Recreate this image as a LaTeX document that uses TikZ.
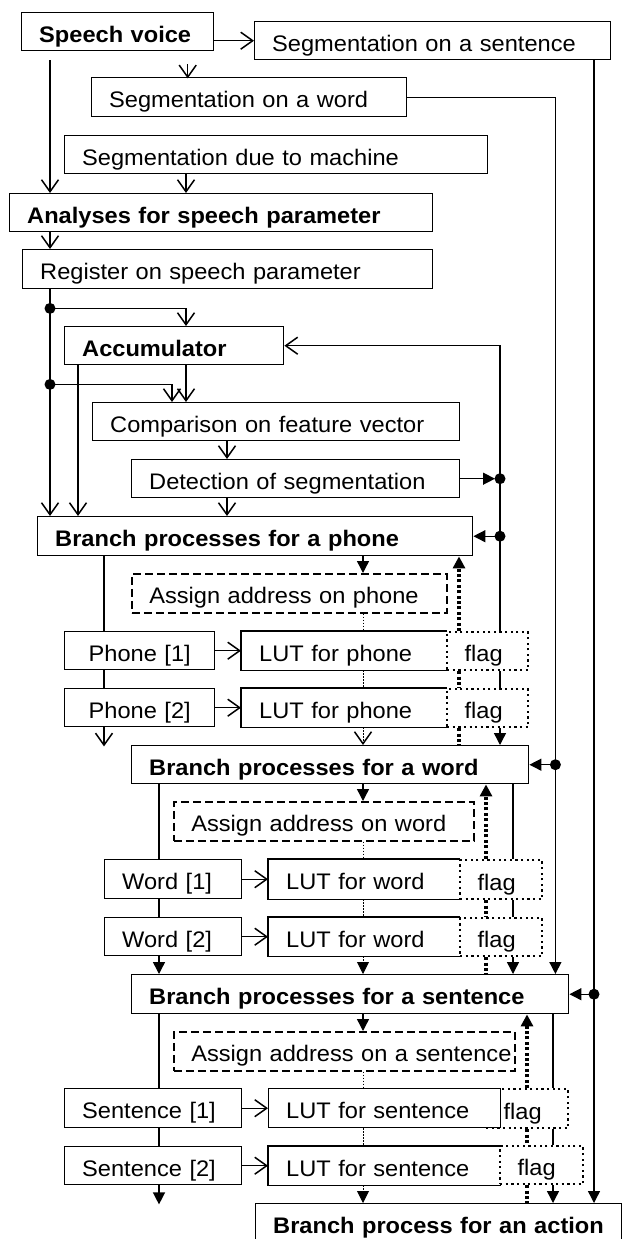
\documentclass[tikz,border=0pt]{standalone}
\usepackage{fontspec}
\setmainfont{Liberation Sans}[FakeStretch=1.05]
\usetikzlibrary{arrows.meta,calc}
\begin{document}
\begin{tikzpicture}[x=1pt,y=-1pt,line width=1.4pt,
  bx/.style={draw,line width=1.4pt,anchor=north west,inner xsep=17.5pt,inner ysep=0pt,
    align=left,text height=21pt,text depth=0pt,minimum height=38pt,
    font=\fontsize{22.5}{26}\selectfont},
  bb/.style={bx,font=\fontsize{22.5}{26}\selectfont\bfseries},
  da/.style={bx,line width=1.5pt,dash pattern=on 8pt off 4pt},
  fg/.style={bx,line width=2.2pt,dash pattern=on 2.2pt off 3.4pt},
  lut/.style={bx,draw=none},
  oa/.style={-{Straight Barb[length=12pt,width=17pt,line width=1.5pt]}},
  fa/.style={-{Triangle[length=12pt,width=12pt]}},
  td/.style={line width=3.4pt,dash pattern=on 3pt off 2.4pt},
  tn/.style={line width=0.9pt,dash pattern=on 1.2pt off 1.8pt},
  jdot/.style={fill=black}
]
\useasboundingbox (0,0) rectangle (623,1239);
\clip (0,0) rectangle (623,1239);

% ---------- nodes ----------
\node[bb,minimum width=192pt,text width=157pt] (sv) at (21,12) {\mbox{Speech voice}};
\node[bx,minimum width=356pt,text width=321pt] (sseg) at (254,21) {\mbox{Segmentation on a sentence}};
\node[bx,minimum width=315pt,text width=280pt,minimum height=39pt] (wseg) at (91,77) {\mbox{Segmentation on a word}};
\node[bx,minimum width=423pt,text width=388pt] (mseg) at (64,135) {\mbox{Segmentation due to machine}};
\node[bb,minimum width=423pt,text width=388pt] (ana) at (9,193) {\mbox{Analyses for speech parameter}};
\node[bx,minimum width=410pt,text width=375pt,minimum height=39pt] (reg) at (22,249) {\mbox{Register on speech parameter}};
\node[bb,minimum width=219pt,text width=184pt] (acc) at (64,326) {\mbox{Accumulator}};
\node[bx,minimum width=367pt,text width=332pt] (cmp) at (92,402) {\mbox{Comparison on feature vector}};
\node[bx,minimum width=328pt,text width=293pt] (det) at (131,459) {\mbox{Detection of segmentation}};
\node[bb,minimum width=435pt,text width=400pt,minimum height=39pt] (bph) at (37,516) {\mbox{Branch processes for a phone}};
\node[da,minimum width=315pt,text width=280pt,minimum height=39pt] (aph) at (131,573) {\mbox{Assign address on phone}};
\node[bx,align=center,minimum width=150pt,text width=115pt] (ph1) at (64,631) {\mbox{Phone [1]}};
\node[lut,minimum width=205pt,text width=170pt] (lph1) at (241,631) {\mbox{LUT for phone}};
\node[fg,minimum width=81pt,text width=46pt] (fph1) at (446,631) {flag};
\node[bx,align=center,minimum width=150pt,text width=115pt] (ph2) at (64,688) {\mbox{Phone [2]}};
\node[lut,minimum width=205pt,text width=170pt] (lph2) at (241,688) {\mbox{LUT for phone}};
\node[fg,minimum width=81pt,text width=46pt] (fph2) at (446,688) {flag};
\node[bb,minimum width=397pt,text width=362pt] (bwd) at (131,745) {\mbox{Branch processes for a word}};
\node[da,minimum width=300pt,text width=265pt,minimum height=39pt] (awd) at (173,801) {\mbox{Assign address on word}};
\node[bx,minimum width=137pt,text width=102pt,minimum height=39pt] (wd1) at (104,859) {\mbox{Word [1]}};
\node[lut,minimum width=191pt,text width=156pt,minimum height=39pt] (lwd1) at (268,859) {\mbox{LUT for word}};
\node[fg,minimum width=82pt,text width=47pt,minimum height=39pt] (fwd1) at (459,859) {flag};
\node[bx,minimum width=137pt,text width=102pt] (wd2) at (104,917) {\mbox{Word [2]}};
\node[lut,minimum width=191pt,text width=156pt] (lwd2) at (268,917) {\mbox{LUT for word}};
\node[fg,minimum width=82pt,text width=47pt] (fwd2) at (459,917) {flag};
\node[bb,minimum width=437pt,text width=402pt,minimum height=39pt] (bse) at (131,974) {\mbox{Branch processes for a sentence}};
\node[da,minimum width=341pt,text width=306pt,minimum height=39pt] (ase) at (173,1031) {\mbox{Assign address on a sentence}};
\node[bx,minimum width=177pt,text width=142pt,minimum height=39pt] (se1) at (64,1088) {\mbox{Sentence [1]}};
\node[fg,minimum width=82pt,text width=47pt,minimum height=39pt] (fse1) at (485,1088) {flag};
\node[bx,fill=white,minimum width=232pt,text width=197pt,minimum height=39pt] (lse1) at (268,1088) {\mbox{LUT for sentence}};
\node[bx,minimum width=177pt,text width=142pt] (se2) at (64,1146) {\mbox{Sentence [2]}};
\node[lut,minimum width=232pt,text width=197pt] (lse2) at (268,1146) {\mbox{LUT for sentence}};
\node[fg,minimum width=83pt,text width=48pt] (fse2) at (499,1145) {flag};
\node[bb,minimum width=366pt,text width=331pt] (act) at (255,1203) {\mbox{Branch process for an action}};

% LUT outlines (right side is the dotted flag edge)
\foreach \n in {lph1,lph2,lwd1,lwd2,lse2}
  \draw (\n.north east) -- (\n.north west) -- (\n.south west) -- (\n.south east);

% ---------- top part ----------
\draw[oa] (sv.east |- sseg.west) -- (sseg.west);
\draw[oa] ($(sv.south)+(70,13)$) -- ++(0,14);
\draw[oa] ($(sv.south west)+(29,9)$) coordinate (L0) -- (L0 |- ana.north);
\draw[oa] ($(mseg.south west)+(122,0)$) coordinate (m0) -- (m0 |- ana.north);
\draw[oa] ($(ana.south west)+(41,0)$) coordinate (a0) -- (a0 |- reg.north);
\draw[oa] ($(reg.south west)+(28,0)$) coordinate (r0) -- (r0 |- bph.north);
\coordinate (j1) at ($(r0)+(0,19)$);
\coordinate (j2) at ($(r0)+(0,95)$);
\draw[oa] (j1) -| ($(acc.north west)+(122,0)$);
\draw[oa] (j2) -| ($(cmp.north west)+(80,0)$);
\draw[oa] ($(acc.south west)+(14,0)$) coordinate (c0) -- (c0 |- bph.north);
\draw[oa] ($(acc.south west)+(122,0)$) coordinate (c1) -- (c1 |- cmp.north);
\draw[oa] ($(cmp.south west)+(135,0)$) coordinate (c2) -- (c2 |- det.north);
\draw[oa] ($(det.south west)+(96,0)$) coordinate (c3) -- (c3 |- bph.north);

% feedback line x=500
\coordinate (fb) at ($(fph1.north west)+(54,0)$);
\draw[oa] (fb) |- (acc.east);
\coordinate (j3) at (fb |- det.east);
\coordinate (j4) at (fb |- bph.east);
\draw[fa] (det.east) -- ($(j3)+(-5,0)$);
\draw[fa] (j4) -- (bph.east);

% segmentation on a word line
\coordinate (w1) at ($(wseg.east)+(148,0)$);
\coordinate (j5) at (w1 |- bwd.east);
\draw[fa] (wseg.east) -- (w1) -- (w1 |- bse.north);
\draw[fa] (j5) -- (bwd.east);

% segmentation on a sentence line
\coordinate (s1) at ($(sseg.south west)+(340,0)$);
\coordinate (j6) at (s1 |- bse.east);
\draw[fa] (s1) -- (s1 |- act.north);
\draw[fa] (j6) -- (bse.east);

% ---------- phone ----------
\draw ($(bph.south west)+(67,0)$) coordinate (p0) -- (p0 |- ph1.north);
\draw ($(ph1.south west)+(40,0)$) coordinate (p1) -- (p1 |- ph2.north);
\draw[oa] ($(ph2.south west)+(40,0)$) -- ++(0,19);
\draw[fa] ($(bph.south west)+(326,0)$) coordinate (q0) -- (q0 |- aph.north);
\draw[tn] ($(aph.south west)+(232,0)$) coordinate (q1) -- (q1 |- lph1.north);
\draw[tn] ($(lph1.south west)+(122,0)$) coordinate (q2) -- (q2 |- lph2.north);
\draw[tn,oa] ($(lph2.south west)+(122,0)$) coordinate (q3) -- (q3 |- bwd.north);
\draw[oa] (ph1.east) -- (lph1.west);
\draw[oa] (ph2.east) -- (lph2.west);
\draw[td,fa] ($(fph1.north west)+(13,0)$) coordinate (t1) -- (t1 |- bph.south);
\draw[td] ($(fph1.south west)+(13,0)$) coordinate (t2) -- (t2 |- fph2.north);
\draw[td] ($(fph2.south west)+(13,0)$) coordinate (t3) -- (t3 |- bwd.north);
\draw ($(fph1.south west)+(54,0)$) coordinate (f1) -- (f1 |- fph2.north);
\draw[fa] ($(fph2.south west)+(54,0)$) coordinate (f2) -- (f2 |- bwd.north);

% ---------- word ----------
\draw ($(bwd.south west)+(28,0)$) coordinate (u0) -- (u0 |- wd1.north);
\draw ($(wd1.south west)+(55,0)$) coordinate (u1) -- (u1 |- wd2.north);
\draw[fa] ($(wd2.south west)+(55,0)$) coordinate (u2) -- (u2 |- bse.north);
\draw[fa] ($(bwd.south west)+(232,0)$) coordinate (v0) -- (v0 |- awd.north);
\draw[tn] ($(awd.south west)+(190,0)$) coordinate (v1) -- (v1 |- lwd1.north);
\draw[tn] ($(lwd1.south west)+(95,0)$) coordinate (v2) -- (v2 |- lwd2.north);
\draw[tn,fa] ($(lwd2.south west)+(95,0)$) coordinate (v3) -- (v3 |- bse.north);
\draw[oa] (wd1.east) -- (lwd1.west);
\draw[oa] (wd2.east) -- (lwd2.west);
\draw[td,fa] ($(fwd1.north west)+(27,0)$) coordinate (t4) -- (t4 |- bwd.south);
\draw[td] ($(fwd1.south west)+(27,0)$) coordinate (t5) -- (t5 |- fwd2.north);
\draw[td] ($(fwd2.south west)+(27,0)$) coordinate (t6) -- (t6 |- bse.north);
\draw ($(bwd.south west)+(382,0)$) coordinate (g0) -- (g0 |- fwd1.north);
\draw ($(fwd1.south west)+(54,0)$) coordinate (g1) -- (g1 |- fwd2.north);
\draw[fa] ($(fwd2.south west)+(54,0)$) coordinate (g2) -- (g2 |- bse.north);

% ---------- sentence ----------
\draw ($(bse.south west)+(28,0)$) coordinate (k0) -- (k0 |- se1.north);
\draw ($(se1.south west)+(95,0)$) coordinate (k1) -- (k1 |- se2.north);
\draw[fa] ($(se2.south west)+(95,0)$) -- ++(0,19);
\draw[fa] ($(bse.south west)+(232,0)$) coordinate (n0) -- (n0 |- ase.north);
\draw[tn] ($(ase.south west)+(190,0)$) coordinate (n1) -- (n1 |- lse1.north);
\draw[tn] ($(lse1.south west)+(95,0)$) coordinate (n2) -- (n2 |- lse2.north);
\draw[tn,fa] ($(lse2.south west)+(95,0)$) coordinate (n3) -- (n3 |- act.north);
\draw[oa] (se1.east) -- (lse1.west);
\draw[oa] (se2.east) -- (lse2.west);
\draw[td,fa] ($(fse1.north west)+(42,0)$) coordinate (t7) -- (t7 |- bse.south);
\draw[td] ($(fse1.south west)+(42,0)$) coordinate (t8) -- (t8 |- fse2.north);
\draw[td] ($(fse2.south west)+(28,0)$) coordinate (t9) -- (t9 |- act.north);
\draw ($(bse.south west)+(422,0)$) coordinate (h0) -- (h0 |- fse1.north);
\draw ($(fse1.south west)+(68,0)$) coordinate (h1) -- (h1 |- fse2.north);
\draw[fa] ($(fse2.south west)+(54,0)$) coordinate (h2) -- (h2 |- act.north);

% junction dots
\foreach \j in {j1,j2,j3,j4,j5,j6}
  \fill[jdot] (\j) circle (5.5pt);
\end{tikzpicture}
\end{document}
